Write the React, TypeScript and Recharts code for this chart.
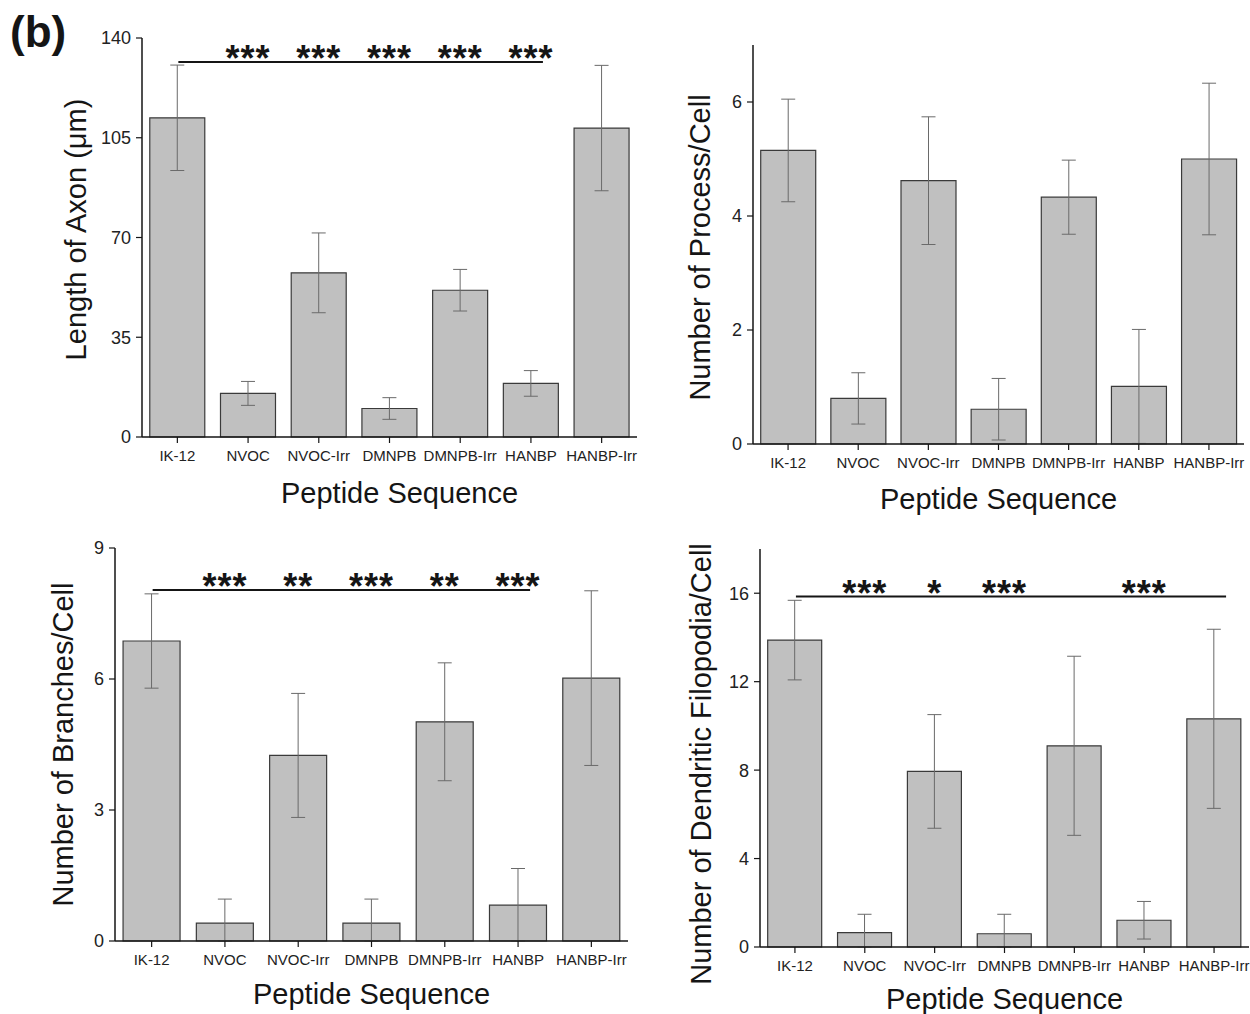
import React from 'react';
import { BarChart, Bar, XAxis, YAxis, ErrorBar, ReferenceLine, ReferenceDot } from 'recharts';

const categories = ['IK-12', 'NVOC', 'NVOC-Irr', 'DMNPB', 'DMNPB-Irr', 'HANBP', 'HANBP-Irr'];

// panel 1: axon length
const axonMean = [112, 15.3, 57.6, 10.0, 51.5, 18.8, 108.4];
const axonErr = [18.5, 4.2, 14, 3.8, 7.3, 4.5, 22];
const axonStars = ['', '***', '***', '***', '***', '***', ''];
const axonTicks = [0, 35, 70, 105, 140];

// panel 2: processes per cell
const processMean = [5.15, 0.8, 4.62, 0.61, 4.33, 1.01, 5.0];
const processErr = [0.9, 0.45, 1.12, 0.54, 0.65, 1.0, 1.33];
const processTicks = [0, 2, 4, 6];

// panel 3: branches per cell
const branchMean = [6.87, 0.41, 4.25, 0.41, 5.02, 0.82, 6.02];
const branchErr = [1.08, 0.55, 1.42, 0.55, 1.35, 0.84, 2.0];
const branchStars = ['', '***', '**', '***', '**', '***', ''];
const branchTicks = [0, 3, 6, 9];

// panel 4: dendritic filopodia per cell
const filoMean = [13.88, 0.65, 7.94, 0.6, 9.1, 1.21, 10.32];
const filoErr = [1.8, 0.83, 2.57, 0.88, 4.05, 0.85, 4.05];
const filoStars = ['', '***', '*', '***', '', '***', ''];
const filoTicks = [0, 4, 8, 12, 16];

const FONT = '"Liberation Sans", Arial, Helvetica, sans-serif';
const INK = '#151515';
const Y_W = 50;
const X_H = 30;

// error bars stop at the axis
const buildRows = (mean: number[], err: number[]) =>
  categories.map((name, i) => ({ name, value: mean[i], err: [Math.min(mean[i], err[i]), err[i]] }));

type PanelProps = {
  left: number; top: number; width: number; height: number;
  plot: { top: number; right: number; bottom: number; left: number };
  mean: number[]; err: number[]; ticks: number[]; max: number;
  yTitle: string; yTitleX: number; yTitleDy: number; xTitleDx: number; xTitleGap: number;
  stars?: string[]; sigLevel?: number; sigEnd?: string;
};

const SigLine = (p: any) => (
  <line x1={p.x1 + 1} y1={p.y1} x2={p.x2 + 12} y2={p.y2} stroke={INK} strokeWidth={2} />
);

const Panel = (p: PanelProps) => {
  const rows = buildRows(p.mean, p.err);
  const margin = { top: p.plot.top, right: p.plot.right, left: p.plot.left - Y_W, bottom: p.plot.bottom - X_H };
  return (
    <div style={{ position: 'absolute', left: p.left, top: p.top }}>
      <BarChart width={p.width} height={p.height} data={rows} margin={margin} barCategoryGap="11%">
        <XAxis
          dataKey="name"
          height={X_H}
          interval={0}
          tickSize={6}
          tickMargin={7}
          tick={{ fontSize: 15, fill: '#222', fontFamily: FONT }}
          axisLine={{ stroke: INK, strokeWidth: 1.5 }}
          tickLine={{ stroke: INK, strokeWidth: 1.2 }}
          label={{ value: 'Peptide Sequence', position: 'bottom', offset: p.xTitleGap - X_H, dx: p.xTitleDx, fontSize: 29, fill: INK, fontFamily: FONT }}
        />
        <YAxis
          width={Y_W}
          domain={[0, p.max]}
          ticks={p.ticks}
          tickSize={6}
          tickMargin={5}
          tick={{ fontSize: 18, fill: '#222', fontFamily: FONT }}
          axisLine={{ stroke: INK, strokeWidth: 1.5 }}
          tickLine={{ stroke: INK, strokeWidth: 1.2 }}
          label={{ value: p.yTitle, angle: -90, position: 'center', dx: p.yTitleX - (p.plot.left - Y_W / 2), dy: p.yTitleDy, fontSize: 29, fill: INK, fontFamily: FONT }}
        />
        <Bar dataKey="value" fill="#c0c0c0" stroke="#3a3a3a" strokeWidth={1.2} isAnimationActive={false}>
          <ErrorBar dataKey="err" width={7} stroke="#6a6a6a" strokeWidth={1} />
        </Bar>
        {p.sigLevel !== undefined && (
          <ReferenceLine
            segment={[{ x: categories[0], y: p.sigLevel }, { x: p.sigEnd, y: p.sigLevel }]}
            shape={SigLine}
          />
        )}
        {p.stars && p.sigLevel !== undefined &&
          p.stars.map((s, i) =>
            s ? (
              <ReferenceDot
                key={i}
                x={categories[i]}
                y={p.sigLevel}
                r={0}
                fill="none"
                stroke="none"
                label={{ value: s, position: 'top', offset: -9, fontSize: 36, fontWeight: 700, letterSpacing: 1, fill: INK, fontFamily: FONT }}
              />
            ) : null
          )}
      </BarChart>
    </div>
  );
};

const App = () => (
  <div style={{ position: 'absolute', left: 0, top: 0, width: 1250, height: 1014, background: '#fff', fontFamily: FONT }}>
    <div style={{ position: 'absolute', left: 10, top: 10, fontSize: 44, lineHeight: '44px', fontWeight: 700, color: INK }}>(b)</div>
    <Panel
      left={0} top={0} width={650} height={520}
      plot={{ top: 38, right: 13, bottom: 83, left: 142 }}
      mean={axonMean} err={axonErr} ticks={axonTicks} max={140}
      yTitle="Length of Axon (μm)" yTitleX={76} yTitleDy={-8} xTitleDx={10} xTitleGap={45}
      stars={axonStars} sigLevel={131.6} sigEnd="HANBP"
    />
    <Panel
      left={640} top={0} width={610} height={520}
      plot={{ top: 45, right: 6, bottom: 76, left: 113 }}
      mean={processMean} err={processErr} ticks={processTicks} max={7}
      yTitle="Number of Process/Cell" yTitleX={60} yTitleDy={3} xTitleDx={0} xTitleGap={44}
    />
    <Panel
      left={0} top={520} width={640} height={494}
      plot={{ top: 28, right: 12, bottom: 73, left: 115 }}
      mean={branchMean} err={branchErr} ticks={branchTicks} max={9}
      yTitle="Number of Branches/Cell" yTitleX={63} yTitleDy={0} xTitleDx={0} xTitleGap={42}
      stars={branchStars} sigLevel={8.04} sigEnd="HANBP"
    />
    <Panel
      left={640} top={520} width={610} height={494}
      plot={{ top: 29, right: 1, bottom: 67, left: 120 }}
      mean={filoMean} err={filoErr} ticks={filoTicks} max={18}
      yTitle="Number of Dendritic Filopodia/Cell" yTitleX={61} yTitleDy={16} xTitleDx={0} xTitleGap={41}
      stars={filoStars} sigLevel={15.85} sigEnd="HANBP-Irr"
    />
  </div>
);

export default App;
